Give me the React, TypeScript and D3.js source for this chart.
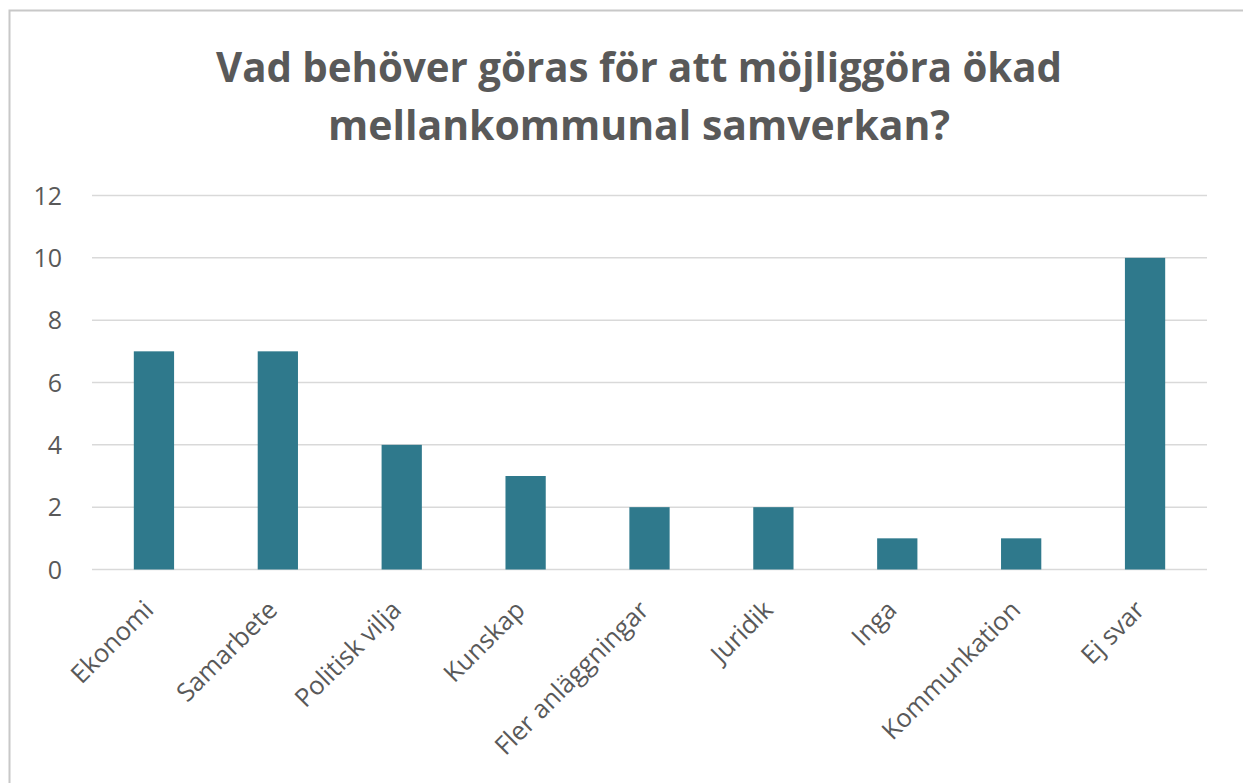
import React from 'react';
import { scaleBand, scaleLinear } from 'd3';

const categories = ['Ekonomi', 'Samarbete', 'Politisk vilja', 'Kunskap', 'Fler anläggningar', 'Juridik', 'Inga', 'Kommunkation', 'Ej svar'];
const values = [7, 7, 4, 3, 2, 2, 1, 1, 10];
const yTicks = [0, 2, 4, 6, 8, 10, 12];
const titleLines = ['Vad behöver göras för att möjliggöra ökad', 'mellankommunal samverkan?'];

const width = 1243;
const height = 783;
const margin = { top: 195.5, left: 92, right: 36, bottom: 213.5 };
const innerWidth = width - margin.left - margin.right;
const innerHeight = height - margin.top - margin.bottom;
const textColor = '#595959';
const font = '"Open Sans", "Liberation Sans", sans-serif';

function App() {
  const x = scaleBand().domain(categories).range([0, innerWidth]).paddingInner(0.675).paddingOuter(0.3375);
  const y = scaleLinear().domain([0, 12]).range([innerHeight, 0]);

  return (
    <svg width={width} height={height} style={{ position: 'absolute', left: 0, top: 0, background: '#fff' }}>
      <rect x={9.5} y={10.5} width={width + 20} height={height + 20} fill="#fff" stroke="#c8c8c8" strokeWidth={2} />
      <g fontFamily={font} fontWeight="bold" fill={textColor} textAnchor="middle" fontSize={41}>
        <text x={639} y={82} textLength={846} lengthAdjust="spacingAndGlyphs">{titleLines[0]}</text>
        <text x={639} y={140} textLength={622} lengthAdjust="spacingAndGlyphs">{titleLines[1]}</text>
      </g>
      <g transform={`translate(${margin.left},${margin.top})`}>
        {yTicks.map(t => (
          <g key={t} transform={`translate(0,${y(t)})`}>
            <line x1={0} x2={innerWidth} stroke="#d9d9d9" strokeWidth={1.5} />
            <text x={-30} dy="0.36em" textAnchor="end" fontFamily={font} fontSize={25} fill={textColor}>{t}</text>
          </g>
        ))}
        {categories.map((c, i) => (
          <rect key={c} x={x(c)} y={y(values[i])} width={x.bandwidth()} height={innerHeight - y(values[i])} fill="#2f798c" />
        ))}
        {categories.map(c => (
          <text
            key={c}
            transform={`translate(${x(c)! + x.bandwidth() / 2 + 1},${innerHeight + 42}) rotate(-45)`}
            textAnchor="end"
            fontFamily={font}
            fontSize={25.5}
            fill={textColor}
          >
            {c}
          </text>
        ))}
      </g>
    </svg>
  );
}

export default App;
